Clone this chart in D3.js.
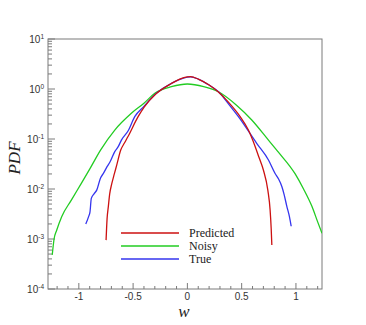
<!DOCTYPE html>
<html><head><meta charset="utf-8">
<script src="https://cdn.jsdelivr.net/npm/d3@7"></script>
<style>body{margin:0;background:#fff}svg{display:block}</style>
</head><body>
<script>
const noisyW = [-1.245,-1.228,-1.204,-1.158,-1.069,-0.977,-0.90,-0.80,-0.669,-0.516,-0.40,-0.30,-0.147,0,0.15,0.286,0.45,0.593,0.747,0.84,0.993,1.07,1.147,1.2,1.24];
const noisyP = [4.8e-4,1.0e-3,1.5e-3,2.8e-3,6.0e-3,0.013,0.025,0.060,0.151,0.327,0.52,0.82,1.11,1.26,1.12,0.88,0.48,0.24,0.095,0.054,0.020,0.010,0.0045,0.0022,0.0013];
const trueW = [-0.936,-0.91,-0.897,-0.885,-0.86,-0.835,-0.80,-0.774,-0.74,-0.712,-0.669,-0.636,-0.608,-0.544,-0.485,-0.40,-0.286,-0.147,-0.07,0,0.03,0.1,0.2,0.286,0.38,0.47,0.64,0.747,0.808,0.84,0.87,0.89,0.916,0.94,0.956];
const trueP = [2.0e-3,2.8e-3,3.5e-3,6.5e-3,8e-3,9.5e-3,0.0166,0.0205,0.028,0.035,0.056,0.071,0.095,0.148,0.28,0.45,0.82,1.30,1.55,1.72,1.74,1.58,1.2,0.88,0.5,0.28,0.081,0.038,0.0204,0.0158,0.0112,0.0079,0.0045,0.0028,0.0018];
const predW = [-0.749,-0.74,-0.728,-0.716,-0.697,-0.673,-0.651,-0.614,-0.58,-0.547,-0.454,-0.40,-0.286,-0.147,-0.07,0,0.03,0.1,0.2,0.286,0.38,0.486,0.562,0.624,0.661,0.70,0.741,0.762,0.772,0.778];
const predP = [9.5e-4,2.5e-3,4.5e-3,7.9e-3,0.0126,0.02,0.030,0.060,0.083,0.112,0.28,0.43,0.81,1.29,1.58,1.74,1.76,1.58,1.2,0.87,0.54,0.28,0.151,0.071,0.042,0.024,0.0095,0.0038,0.0016,7.6e-4];
const xTicks = [-1,-0.5,0,0.5,1];
const xTickLabels = ["-1","-0.5","0","0.5","1"];
const yExponents = [1,0,-1,-2,-3,-4];
const seriesNames = ["Predicted","Noisy","True"];
const seriesColors = ["#cc1111","#22cc22","#3535ee"];

const W=366,H=325;
const L=48,R=322,T=39,B=289;
const svg=d3.select("body").append("svg").attr("width",W).attr("height",H);
const x=d3.scaleLinear().domain([-1.284,1.24]).range([L,R]);
const y=d3.scaleLog().domain([1e-4,10]).range([B,T]);

const axisCol="#7a7a7a";
svg.append("rect").attr("x",L).attr("y",T).attr("width",R-L).attr("height",B-T)
  .attr("fill","none").attr("stroke",axisCol).attr("stroke-width",1);

const xMinor=d3.range(-12,13).map(d=>d/10);
const gx=svg.append("g");
gx.selectAll("line.mn").data(xMinor).join("line")
  .attr("x1",d=>x(d)).attr("x2",d=>x(d)).attr("y1",B).attr("y2",d=>Math.abs(d*2-Math.round(d*2))<1e-6?B-6:B-3)
  .attr("stroke",axisCol).attr("stroke-width",1);
gx.selectAll("text").data(xTicks).join("text")
  .attr("x",d=>x(d)).attr("y",B+11).attr("text-anchor","middle")
  .attr("font-family","Liberation Sans, Arial, sans-serif").attr("font-size",10).attr("fill","#333")
  .text((d,i)=>xTickLabels[i]);

const gy=svg.append("g");
const yMinor=[];
for(let e=-4;e<1;e++){for(let m=2;m<=9;m++)yMinor.push(m*Math.pow(10,e));}
gy.selectAll("line.mn").data(yMinor).join("line")
  .attr("x1",L).attr("x2",L+4).attr("y1",d=>y(d)).attr("y2",d=>y(d))
  .attr("stroke",axisCol).attr("stroke-width",1);
gy.selectAll("line.mj").data(yExponents).join("line")
  .attr("x1",L).attr("x2",L+7).attr("y1",d=>y(Math.pow(10,d))).attr("y2",d=>y(Math.pow(10,d)))
  .attr("stroke",axisCol).attr("stroke-width",1);
const lab=gy.selectAll("text").data(yExponents).join("text")
  .attr("x",L-4).attr("y",d=>y(Math.pow(10,d))+4).attr("text-anchor","end")
  .attr("font-family","Liberation Sans, Arial, sans-serif").attr("font-size",10).attr("fill","#333");
lab.append("tspan").text("10");
lab.append("tspan").attr("dy",-4).attr("font-size",6.5).text(d=>d);

svg.append("clipPath").attr("id","c").append("rect").attr("x",L).attr("y",T).attr("width",R-L).attr("height",B-T);
const series=[[predW,predP],[noisyW,noisyP],[trueW,trueP]];
const line=d3.line().x(d=>x(d[0])).y(d=>y(d[1])).curve(d3.curveMonotoneX);
[1,2,0].forEach(i=>{
  const [ws,ps]=series[i];
  svg.append("path").attr("clip-path","url(#c)").datum(ws.map((w,k)=>[w,ps[k]]))
    .attr("d",line).attr("fill","none").attr("stroke",seriesColors[i]).attr("stroke-width",1.3);
});

const lg=svg.append("g");
seriesNames.forEach((n,i)=>{
  const yy=233+i*13;
  lg.append("line").attr("x1",121).attr("x2",179).attr("y1",yy).attr("y2",yy)
    .attr("stroke",seriesColors[i]).attr("stroke-width",1.5);
  lg.append("text").attr("x",189).attr("y",yy+4)
    .attr("font-family","Liberation Serif, Times New Roman, serif").attr("font-size",12).attr("fill","#222").text(n);
});

svg.append("text").attr("x",(L+R)/2-1).attr("y",317).attr("text-anchor","middle")
  .attr("font-family","Liberation Serif, Times New Roman, serif").attr("font-style","italic").attr("font-size",17).attr("fill","#222").text("w");
svg.append("text").attr("transform","translate(20,158) rotate(-90)").attr("text-anchor","middle")
  .attr("font-family","Liberation Serif, Times New Roman, serif").attr("font-style","italic").attr("font-size",17).attr("fill","#222").text("PDF");
</script>
</body></html>
